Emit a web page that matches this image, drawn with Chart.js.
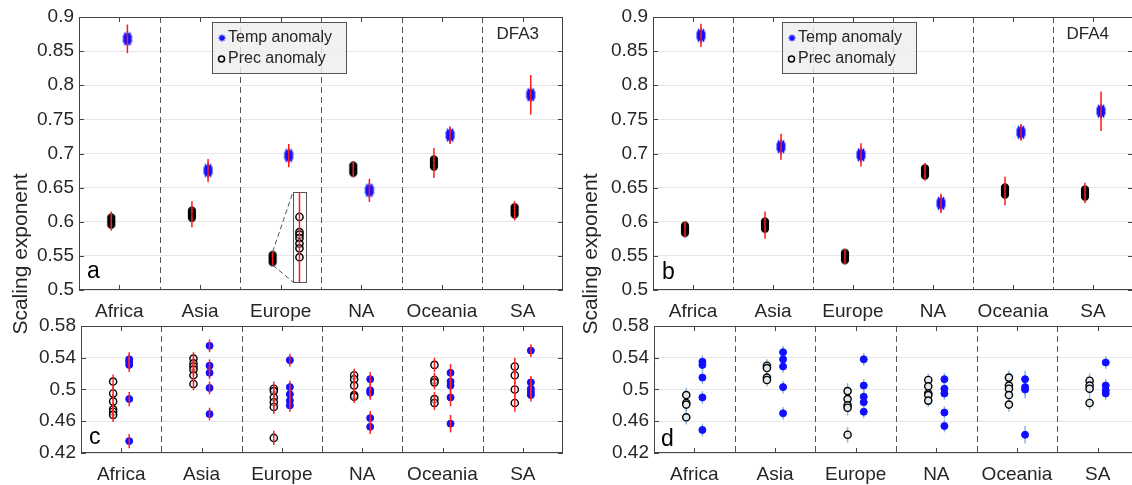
<!DOCTYPE html>
<html>
<head>
<meta charset="utf-8">
<script src="https://cdn.jsdelivr.net/npm/chart.js@4.4.0/dist/chart.umd.min.js"></script>
<style>
  html, body { margin: 0; padding: 0; background: #fff; overflow: hidden; width: 1132px; height: 485px; }
  canvas { position: absolute; }
  .ytitle { position: absolute; width: 240px; text-align: center; line-height: 24px;
    font: 21px "Liberation Sans", Arial, sans-serif; color: #262626; transform: rotate(-90deg); }
</style>
</head>
<body>
<canvas id="pc" width="575" height="185" style="left:0;top:300px"></canvas>
<canvas id="pd" width="570" height="185" style="left:575px;top:300px"></canvas>
<canvas id="pa" width="575" height="325" style="left:0;top:0"></canvas>
<canvas id="pb" width="570" height="325" style="left:575px;top:0"></canvas>
<div class="ytitle" style="left:-100px;top:242px">Scaling exponent</div>
<div class="ytitle" style="left:470px;top:242px">Scaling exponent</div>
<script>
const regions = ['Africa', 'Asia', 'Europe', 'NA', 'Oceania', 'SA'];

// DFA3 (panel a): mean exponent and error per region
const dfa3Temp = [0.868, 0.675, 0.697, 0.646, 0.727, 0.786];
const dfa3TempErr = [0.021, 0.017, 0.017, 0.017, 0.013, 0.029];
const dfa3Prec = [0.601, 0.611, 0.546, 0.677, 0.686, 0.616];
const dfa3PrecErr = [0.014, 0.019, 0.010, 0.012, 0.022, 0.014];
// zoomed Europe precipitation values shown in the inset
const europeInset = [0.607, 0.585, 0.581, 0.576, 0.568, 0.561, 0.548];

// DFA4 (panel b)
const dfa4Temp = [0.873, 0.710, 0.698, 0.627, 0.731, 0.762];
const dfa4TempErr = [0.017, 0.019, 0.017, 0.014, 0.012, 0.029];
const dfa4Prec = [0.589, 0.595, 0.549, 0.673, 0.645, 0.642];
const dfa4PrecErr = [0.012, 0.020, 0.011, 0.013, 0.021, 0.015];

// panel c (DFA3 single values)
const cPrec = [
  [0.510, 0.495, 0.485, 0.475, 0.472, 0.468],
  [0.539, 0.533, 0.529, 0.525, 0.518, 0.507],
  [0.501, 0.498, 0.490, 0.484, 0.478, 0.439],
  [0.518, 0.513, 0.505, 0.493, 0.491],
  [0.531, 0.512, 0.509, 0.488, 0.483],
  [0.529, 0.518, 0.500, 0.483]
];
const cTemp = [
  [0.538, 0.535, 0.531, 0.488, 0.435],
  [0.555, 0.530, 0.521, 0.502, 0.469],
  [0.537, 0.503, 0.494, 0.486, 0.480],
  [0.513, 0.499, 0.496, 0.464, 0.453],
  [0.521, 0.510, 0.505, 0.490, 0.457],
  [0.549, 0.509, 0.501, 0.497, 0.493]
];
const cPrecErr = [0.009, 0.008, 0.009, 0.008, 0.009, 0.011];
const cTempErr = [0.009, 0.008, 0.008, 0.009, 0.011, 0.008];

// panel d (DFA4 single values)
const dPrec = [
  [0.493, 0.483, 0.481, 0.465],
  [0.530, 0.527, 0.515, 0.512],
  [0.498, 0.488, 0.480, 0.477, 0.443],
  [0.512, 0.504, 0.495, 0.493, 0.486],
  [0.515, 0.505, 0.501, 0.493, 0.481],
  [0.511, 0.505, 0.501, 0.483]
];
const dTemp = [
  [0.535, 0.531, 0.515, 0.490, 0.449],
  [0.547, 0.538, 0.529, 0.503, 0.470],
  [0.538, 0.505, 0.491, 0.484, 0.472],
  [0.513, 0.501, 0.495, 0.471, 0.454],
  [0.513, 0.503, 0.500, 0.443],
  [0.534, 0.505, 0.499, 0.495]
];
const dPrecErr = [0.009, 0.008, 0.010, 0.008, 0.009, 0.009];
const dTempErr = [0.008, 0.008, 0.008, 0.008, 0.011, 0.008];

const FONT = '"Liberation Sans", Arial, sans-serif';
const INK = '#262626';
const BLUE = '#1010ff';
Chart.defaults.font.family = FONT;
Chart.defaults.color = INK;

// marker images: stacked asterisks / rings look like the overlapping clusters
function starBlob() {
  const c = document.createElement('canvas');
  c.width = 12; c.height = 18;
  const g = c.getContext('2d');
  g.strokeStyle = BLUE; g.lineWidth = 1.4;
  for (const dy of [-3, -1.5, 0, 1.5, 3]) {
    const x = 6, y = 9 + dy, r = 4.5, d = 3.2;
    g.beginPath();
    g.moveTo(x - r, y); g.lineTo(x + r, y);
    g.moveTo(x, y - r); g.lineTo(x, y + r);
    g.moveTo(x - d, y - d); g.lineTo(x + d, y + d);
    g.moveTo(x - d, y + d); g.lineTo(x + d, y - d);
    g.stroke();
  }
  return c;
}
function ringBlob() {
  const c = document.createElement('canvas');
  c.width = 10; c.height = 18;
  const g = c.getContext('2d');
  g.strokeStyle = '#000'; g.lineWidth = 1.7;
  for (const dy of [-3.5, -1.75, 0, 1.75, 3.5]) {
    g.beginPath(); g.arc(5, 9 + dy, 3.3, 0, Math.PI * 2); g.stroke();
  }
  return c;
}

function means(vals, errs, dx) {
  return vals.map((v, i) => ({ x: i + dx, y: v, err: errs[i] }));
}
function spread(groups, errs, dx) {
  return groups.flatMap((g, i) => g.map(v => ({ x: i + dx, y: v, err: errs[i] })));
}

function drawStar(ctx, x, y, r) {
  const d = r * 0.7;
  ctx.beginPath();
  ctx.moveTo(x - r, y); ctx.lineTo(x + r, y);
  ctx.moveTo(x, y - r); ctx.lineTo(x, y + r);
  ctx.moveTo(x - d, y - d); ctx.lineTo(x + d, y + d);
  ctx.moveTo(x - d, y + d); ctx.lineTo(x + d, y - d);
  ctx.stroke();
}

function errorBars(chart) {
  const ctx = chart.ctx, xs = chart.scales.x, ys = chart.scales.y;
  chart.data.datasets.forEach(ds => {
    if (!ds.errColor) return;
    ctx.save();
    ctx.strokeStyle = ds.errColor;
    ctx.lineWidth = 1.5;
    ds.data.forEach(p => {
      const x = xs.getPixelForValue(p.x);
      ctx.beginPath();
      ctx.moveTo(x, ys.getPixelForValue(p.y - p.err));
      ctx.lineTo(x, ys.getPixelForValue(p.y + p.err));
      ctx.stroke();
    });
    ctx.restore();
  });
}

const panelDeco = {
  id: 'panelDeco',
  beforeDatasetsDraw(chart, args, o) {
    const ctx = chart.ctx, a = chart.chartArea, xs = chart.scales.x;
    ctx.save();
    ctx.strokeStyle = '#555';
    ctx.lineWidth = 1;
    ctx.setLineDash([6, 4]);
    for (let i = 0; i < regions.length - 1; i++) {
      const x = Math.round(xs.getPixelForValue(i + 0.5)) + 0.5;
      ctx.beginPath(); ctx.moveTo(x, a.top); ctx.lineTo(x, a.bottom); ctx.stroke();
    }
    ctx.restore();
    if (!o.barsOnTop) errorBars(chart);
  },
  afterDatasetsDraw(chart, args, o) {
    if (o.barsOnTop) errorBars(chart);
    const ctx = chart.ctx, xs = chart.scales.x, ys = chart.scales.y;
    if (o.inset) {
      const b = o.inset;
      const l = xs.getPixelForValue(b.x - b.hw), r = xs.getPixelForValue(b.x + b.hw);
      const t = ys.getPixelForValue(b.top), bt = ys.getPixelForValue(b.bottom);
      ctx.save();
      ctx.strokeStyle = '#555'; ctx.lineWidth = 1;
      ctx.strokeRect(Math.round(l) + 0.5, Math.round(t) + 0.5, Math.round(r - l), Math.round(bt - t));
      ctx.setLineDash([5, 3]);
      ctx.beginPath();
      ctx.moveTo(xs.getPixelForValue(b.fromX), ys.getPixelForValue(b.fromTop));
      ctx.lineTo(l, t);
      ctx.moveTo(xs.getPixelForValue(b.fromX), ys.getPixelForValue(b.fromBottom));
      ctx.lineTo(l, bt);
      ctx.stroke();
      ctx.setLineDash([]);
      ctx.strokeStyle = '#ff1a1a'; ctx.lineWidth = 1.5;
      const cx = xs.getPixelForValue(b.x);
      ctx.beginPath(); ctx.moveTo(cx, t); ctx.lineTo(cx, bt); ctx.stroke();
      ctx.restore();
    }
  },
  afterDraw(chart, args, o) {
    const ctx = chart.ctx, a = chart.chartArea, xs = chart.scales.x, ys = chart.scales.y;
    ctx.save();
    // box and inward ticks
    ctx.strokeStyle = '#444';
    ctx.lineWidth = 1;
    ctx.strokeRect(a.left + 0.5, a.top + 0.5, a.right - a.left - 1, a.bottom - a.top - 1);
    ctx.beginPath();
    xs.ticks.forEach(t => {
      const x = Math.round(xs.getPixelForValue(t.value)) + 0.5;
      ctx.moveTo(x, a.bottom); ctx.lineTo(x, a.bottom - 5);
      ctx.moveTo(x, a.top); ctx.lineTo(x, a.top + 5);
    });
    ys.ticks.forEach(t => {
      const y = Math.round(ys.getPixelForValue(t.value)) + 0.5;
      ctx.moveTo(a.left, y); ctx.lineTo(a.left + 5, y);
      ctx.moveTo(a.right, y); ctx.lineTo(a.right - 5, y);
    });
    ctx.stroke();

    // panel letter
    ctx.fillStyle = '#000';
    ctx.font = '23px ' + FONT;
    ctx.textAlign = 'left';
    ctx.textBaseline = 'alphabetic';
    ctx.fillText(o.letter, a.left + o.letterDx, a.bottom - o.letterDy);

    if (o.tag) {
      ctx.font = '17px ' + FONT;
      ctx.textAlign = 'right';
      ctx.textBaseline = 'middle';
      ctx.fillStyle = INK;
      ctx.fillText(o.tag, a.right - 24, a.top + 17);
    }
    if (o.legendX) {
      const lx = a.left + o.legendX, ly = a.top + 5, w = 134, h = 51;
      ctx.fillStyle = 'rgba(238,238,238,0.82)';
      ctx.fillRect(lx, ly, w, h);
      ctx.strokeStyle = '#555';
      ctx.strokeRect(lx + 0.5, ly + 0.5, w, h);
      ctx.strokeStyle = BLUE; ctx.lineWidth = 1.3;
      drawStar(ctx, lx + 10, ly + 16, 3.5);
      ctx.strokeStyle = '#000'; ctx.lineWidth = 1.5;
      ctx.beginPath(); ctx.arc(lx + 9.5, ly + 37, 3, 0, Math.PI * 2); ctx.stroke();
      ctx.fillStyle = INK;
      ctx.font = '16px ' + FONT;
      ctx.textAlign = 'left';
      ctx.textBaseline = 'middle';
      ctx.fillText('Temp anomaly', lx + 16, ly + 16);
      ctx.fillText('Prec anomaly', lx + 16, ly + 37);
    }
    ctx.restore();
  }
};

function makePanel(id, cfg) {
  const top = cfg.small;
  return new Chart(document.getElementById(id), {
    type: 'scatter',
    data: { datasets: cfg.datasets },
    options: {
      responsive: false,
      animation: false,
      events: [],
      devicePixelRatio: 1,
      layout: { autoPadding: false, padding: { left: 0, top: cfg.padTop, right: cfg.padRight, bottom: 0 } },
      plugins: { legend: { display: false }, tooltip: { enabled: false }, panelDeco: cfg.deco },
      scales: {
        x: {
          type: 'linear', min: -0.5, max: 5.5,
          afterBuildTicks: s => { s.ticks = regions.map((r, i) => ({ value: i })); },
          afterFit: s => { s.height = cfg.xHeight; },
          ticks: { callback: v => regions[v], font: { size: 19 }, color: INK, padding: cfg.xPad, maxRotation: 0, autoSkip: false },
          grid: { display: false, drawTicks: false },
          border: { display: false }
        },
        y: {
          min: cfg.yMin, max: cfg.yMax,
          afterFit: s => { s.width = cfg.yWidth; },
          ticks: { stepSize: cfg.yStep, callback: v => String(+v.toFixed(2)), font: { size: 19 }, color: INK, padding: 5 },
          grid: { color: '#e6e6e6', drawTicks: false },
          border: { display: false }
        }
      }
    },
    plugins: [panelDeco]
  });
}

makePanel('pa', {
  padTop: 17, padRight: 12, xHeight: 35, xPad: 10, yWidth: 79, yMin: 0.5, yMax: 0.9, yStep: 0.05,
  deco: { letter: 'a', letterDx: 8, letterDy: 12, tag: 'DFA3', legendX: 133, barsOnTop: true,
    inset: { x: 2.233, hw: 0.08, top: 0.6436, bottom: 0.5117, fromX: 1.9, fromTop: 0.5557, fromBottom: 0.5366 } },
  datasets: [
    { data: means(dfa3Prec, dfa3PrecErr, -0.1), pointStyle: ringBlob(), errColor: '#ff1a1a' },
    { data: means(dfa3Temp, dfa3TempErr, 0.1), pointStyle: starBlob(), errColor: '#ff1a1a' },
    { data: europeInset.map(v => ({ x: 2.233, y: v })), pointRadius: 3.6, borderColor: '#000', borderWidth: 1.5, backgroundColor: 'rgba(255,255,255,0.3)' }
  ]
});

makePanel('pb', {
  padTop: 17, padRight: 12, xHeight: 35, xPad: 10, yWidth: 78, yMin: 0.5, yMax: 0.9, yStep: 0.05,
  deco: { letter: 'b', letterDx: 9, letterDy: 11, tag: 'DFA4', legendX: 129, barsOnTop: true },
  datasets: [
    { data: means(dfa4Prec, dfa4PrecErr, -0.1), pointStyle: ringBlob(), errColor: '#ff1a1a' },
    { data: means(dfa4Temp, dfa4TempErr, 0.1), pointStyle: starBlob(), errColor: '#ff1a1a' }
  ]
});

makePanel('pc', {
  padTop: 26, padRight: 12, xHeight: 32, xPad: 10, yWidth: 81, yMin: 0.42, yMax: 0.58, yStep: 0.04,
  deco: { letter: 'c', letterDx: 8, letterDy: 9, barsOnTop: true },
  datasets: [
    { data: spread(cPrec, cPrecErr, -0.1), pointRadius: 3.6, borderColor: '#000', borderWidth: 1.4, backgroundColor: 'rgba(235,240,242,0.6)', errColor: '#ff2020' },
    { data: spread(cTemp, cTempErr, 0.1), pointRadius: 3.5, borderColor: BLUE, borderWidth: 1, backgroundColor: BLUE, errColor: '#ff2020' }
  ]
});

makePanel('pd', {
  padTop: 26, padRight: 7, xHeight: 32, xPad: 10, yWidth: 79, yMin: 0.42, yMax: 0.58, yStep: 0.04,
  deco: { letter: 'd', letterDx: 7, letterDy: 7, barsOnTop: false },
  datasets: [
    { data: spread(dPrec, dPrecErr, -0.1), pointRadius: 3.6, borderColor: '#000', borderWidth: 1.4, backgroundColor: '#e2eaee', errColor: '#8cb8e0' },
    { data: spread(dTemp, dTempErr, 0.1), pointRadius: 3.5, borderColor: BLUE, borderWidth: 1, backgroundColor: BLUE, errColor: '#8cb8e0' }
  ]
});
</script>
</body>
</html>
